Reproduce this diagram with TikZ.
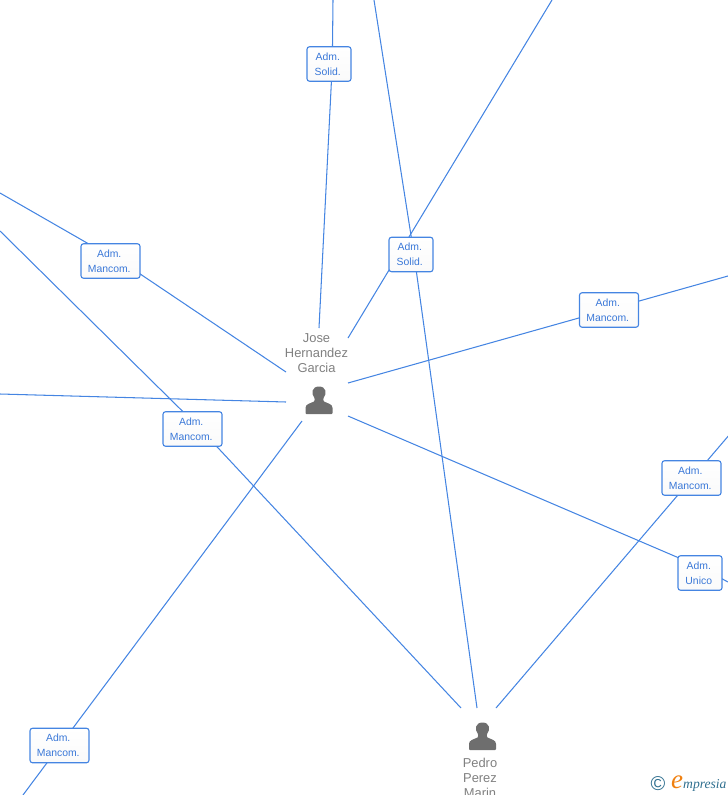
\documentclass[tikz,border=0pt]{standalone}
\usepackage{fontspec}
\setmainfont{Liberation Sans}
\newfontfamily\logofont{Liberation Serif}
\usetikzlibrary{backgrounds}
\definecolor{linkblue}{HTML}{4585E2}
\definecolor{boxtext}{HTML}{3A78D8}
\definecolor{persongray}{HTML}{6E6E6E}
\definecolor{nametext}{HTML}{808080}
\definecolor{logoteal}{HTML}{2F6F8F}
\definecolor{logoorange}{HTML}{F08010}
\newcommand\rolelines[2]{\raisebox{-1pt}{#1}\kern2.5pt\\\raisebox{-1pt}{#2}\kern2.5pt}
\tikzset{
  x=1pt,y=-1pt,
  link/.style={draw=linkblue,line width=1.05pt},
  rolebox/.style={draw=linkblue,line width=1.1pt,rounded corners=2.5pt,top color=white,bottom color=white!96!gray,
    text=boxtext,font=\fontsize{10.4}{15}\selectfont,align=center,inner sep=0pt,minimum height=34.5pt},
  wide/.style={rolebox,minimum width=59pt},
  narrow/.style={rolebox,minimum width=44pt},
  personname/.style={text=nametext,font=\fontsize{12.9}{15}\selectfont,align=center,inner sep=0pt},
  pics/person/.style={code={
    \fill[persongray] (-13.5,13) .. controls (-13.5,13.7) and (-13,14) .. (-12.5,14)
      -- (12.5,14) .. controls (13,14) and (13.5,13.7) .. (13.5,13)
      -- (13.5,8) .. controls (13.5,4) and (9,3.5) .. (5,1.5)
      .. controls (4,0.5) and (4,-1) .. (4.8,-2.5)
      .. controls (8,-6) and (7.5,-13.5) .. (0,-13.5)
      .. controls (-7.5,-13.5) and (-8,-6) .. (-4.8,-2.5)
      .. controls (-4,-1) and (-4,0.5) .. (-5,1.5)
      .. controls (-9,3.5) and (-13.5,4) .. (-13.5,8) -- cycle;
  }}
}
\begin{document}
\begin{tikzpicture}
\useasboundingbox (0,0) rectangle (728,795);
\clip (0,0) rectangle (728,795);

\node[narrow] (solidA) at (329,64) {\rolelines{Adm.}{Solid.}};
\node[narrow] (solidB) at (411,254.5) {\rolelines{Adm.}{Solid.}};
\node[wide] (mancA) at (110.5,261) {\rolelines{Adm.}{Mancom.}};
\node[wide] (mancB) at (192.5,429) {\rolelines{Adm.}{Mancom.}};
\node[wide] (mancC) at (609,310) {\rolelines{Adm.}{Mancom.}};
\node[wide] (mancD) at (691.5,478) {\rolelines{Adm.}{Mancom.}};
\node[wide] (mancE) at (59.5,745.5) {\rolelines{Adm.}{Mancom.}};
\node[narrow] (unico) at (700,573) {\rolelines{Adm.}{Unico}};

\node[personname] (jose) at (316.5,353) {Jose\\Hernandez\\Garcia};
\pic at (319,400) {person};
\node[personname,anchor=north] (pedro) at (480,758) {Pedro\\Perez\\Marin};
\pic at (482.5,736) {person};

\coordinate (t1) at (333,0);
\coordinate (t2) at (374,0);
\coordinate (t3) at (552,0);
\coordinate (l1) at (0,193);
\coordinate (l2) at (0,231);
\coordinate (l3) at (0,394);
\coordinate (b1) at (23,795);
\coordinate (r1) at (728,276);
\coordinate (r2) at (728,582);
\coordinate (r3) at (730,434);
\coordinate (j1) at (319,328);
\coordinate (j2) at (348,338);
\coordinate (j3) at (286,372);
\coordinate (j4) at (286,402);
\coordinate (j5) at (302,421);
\coordinate (j6) at (348,383);
\coordinate (j7) at (348,416);
\coordinate (p1) at (477,708);
\coordinate (p2) at (461,708);
\coordinate (p3) at (496,708);
% points inside the boxes where the links change direction
\coordinate (bendSolidA) at (332.3,64);
\coordinate (bendSolidB) at (414,254.5);
\coordinate (bendMancA) at (135,270.5);
\coordinate (bendMancB) at (199,427.5);
\coordinate (bendUnico) at (700,567);

\begin{pgfonlayer}{background}
\draw[link] (t1) -- (bendSolidA) -- (j1);
\draw[link] (t2) -- (bendSolidB) -- (p1);
\draw[link] (t3) -- (j2);
\draw[link] (l1) -- (bendMancA) -- (j3);
\draw[link] (l2) -- (bendMancB) -- (p2);
\draw[link] (l3) -- (j4);
\draw[link] (j5) -- (b1);
\draw[link] (j6) -- (r1);
\draw[link] (j7) -- (bendUnico) -- (r2);
\draw[link] (p3) -- (r3);
\end{pgfonlayer}

\node[text=logoteal,font=\fontsize{20}{20}\selectfont,inner sep=0pt] (copyr) at (658,784) {©};
\node[text=logoorange,font=\logofont\itshape\fontsize{27}{27}\selectfont,inner sep=0pt] (logoe) at (677,782) {e};
\node[text=logoteal,font=\logofont\itshape\fontsize{13.6}{13}\selectfont,inner sep=0pt,anchor=west] (logot) at (683,785) {mpresia};
\end{tikzpicture}
\end{document}
